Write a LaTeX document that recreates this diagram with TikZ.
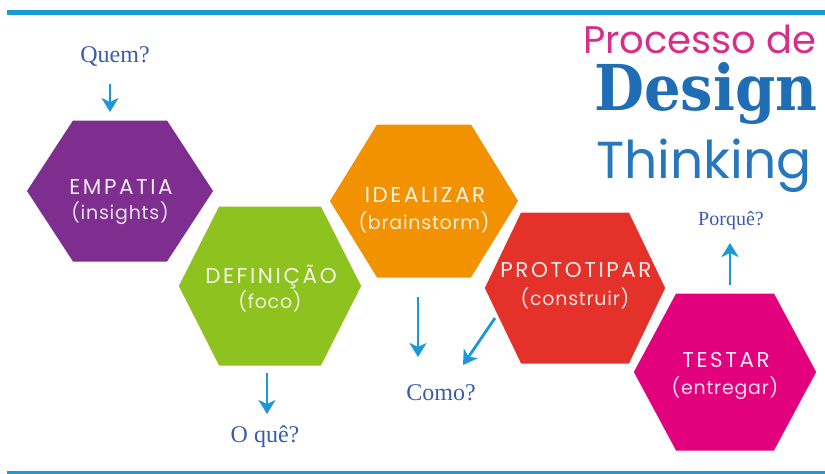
\documentclass[tikz,border=0pt]{standalone}
\usepackage{fontspec}
\setmainfont{Liberation Serif}
\newfontfamily\hexfont[LetterSpace=12]{Poppins}
\newfontfamily\hexsubfont[LetterSpace=4]{Poppins}
\newfontfamily\titlefont{Poppins}
\newfontfamily\slabfont{DejaVu Serif}
\usetikzlibrary{arrows.meta}

\definecolor{lineblue}{HTML}{1A9AD6}
\definecolor{arrowblue}{HTML}{1B98D5}
\definecolor{qblue}{HTML}{3B5CAD}
\definecolor{hpurple}{HTML}{7D2E8F}
\definecolor{hgreen}{HTML}{8DC21F}
\definecolor{horange}{HTML}{F39200}
\definecolor{hred}{HTML}{E4322B}
\definecolor{hmagenta}{HTML}{E2007D}
\definecolor{tmagenta}{HTML}{D62E8A}
\definecolor{tblue}{HTML}{1E6DB5}
\definecolor{tblueb}{HTML}{2677BC}

% cx cy a b h colour
\newcommand\hexshape[6]{%
  \fill[#6, draw=white, line width=3pt, line join=miter]
    (#1-#3,#2) -- (#1-#4,#2-#5) -- (#1+#4,#2-#5) -- (#1+#3,#2)
    -- (#1+#4,#2+#5) -- (#1-#4,#2+#5) -- cycle;}

\begin{document}
\begin{tikzpicture}[x=1pt,y=-1pt,
  hextitle/.style={font=\hexfont\fontsize{21.5}{21.5}\selectfont, text=white, text opacity=0.9, inner sep=0pt},
  hexsub/.style={font=\hexsubfont\fontsize{19}{19}\selectfont, text=white, text opacity=0.85, inner sep=0pt},
  qlabel/.style={font=\fontsize{24}{24}\selectfont, text=qblue, inner sep=0pt, anchor=base},
  qarrow/.style={draw=arrowblue, line width=2.8pt, -{Stealth[length=14pt,width=17pt,inset=4pt]}},
  rule/.style={draw=lineblue}
]
\useasboundingbox (0,0) rectangle (825,474);

% rules
\coordinate (tl) at (7,12.5);
\coordinate (tr) at (825,12.5);
\coordinate (bl) at (7,472);
\coordinate (br) at (825,472);
\draw[rule, line width=5pt] (tl) -- (tr);
\draw[rule, line width=3pt] (bl) -- (br);

% hexagons
\hexshape{120}{191}{95}{48}{72}{hpurple}
\hexshape{270}{286}{93}{52}{81}{hgreen}
\hexshape{424}{201}{96}{48}{78}{horange}
\hexshape{575}{288}{92}{55}{77}{hred}
\hexshape{725}{372}{93}{50}{80}{hmagenta}

% hexagon texts
\node[hextitle] (empatia) at (121,187) {EMPATIA};
\node[hexsub] (empatiasub) at (120,213) {(insights)};
\node[hextitle] (definicao) at (271,277) {DEFINIÇÃO};
\node[hexsub] (definicaosub) at (270,301) {(foco)};
\node[hextitle] (idealizar) at (425,195) {IDEALIZAR};
\node[hexsub] (idealizarsub) at (424,222) {(brainstorm)};
\node[hextitle] (prototipar) at (576,270) {PROTOTIPAR};
\node[hexsub] (prototiparsub) at (575,298) {(construir)};
\node[hextitle] (testar) at (726,360) {TESTAR};
\node[hexsub] (testarsub) at (725,388) {(entregar)};

% title
\node[font=\titlefont\fontsize{38.5}{38.5}\selectfont, text=tmagenta, anchor=base west, inner sep=0pt] (proc) at (583,53) {Processo de};
\node[font=\slabfont\bfseries\fontsize{62}{62}\selectfont, text=tblue, anchor=base west, inner sep=0pt] (design) at (594,110) {\scalebox{0.93}[1.02]{Design}};
\node[font=\titlefont\fontsize{52}{52}\selectfont, text=tblueb, anchor=base west, inner sep=0pt] (thinking) at (596,178) {Thinking};

% question labels
\node[qlabel] (quem) at (115,62) {Quem?};
\node[qlabel] (oque) at (265,442) {O quê?};
\node[qlabel] (como) at (441,400) {Como?};
\node[qlabel, font=\fontsize{20}{20}\selectfont] (porque) at (731,225) {Porquê?};

% arrows
\coordinate (a1s) at (110,84);
\coordinate (a1e) at (110,112);
\coordinate (a2s) at (267,373);
\coordinate (a2e) at (267,414);
\coordinate (a3s) at (418,297);
\coordinate (a3e) at (418,357);
\coordinate (a4s) at (495,318);
\coordinate (a4e) at (463,365);
\coordinate (a5s) at (730,285);
\coordinate (a5e) at (730,243);
\draw[qarrow] (a1s) -- (a1e);
\draw[qarrow] (a2s) -- (a2e);
\draw[qarrow] (a3s) -- (a3e);
\draw[qarrow] (a4s) -- (a4e);
\draw[qarrow] (a5s) -- (a5e);
\end{tikzpicture}
\end{document}
